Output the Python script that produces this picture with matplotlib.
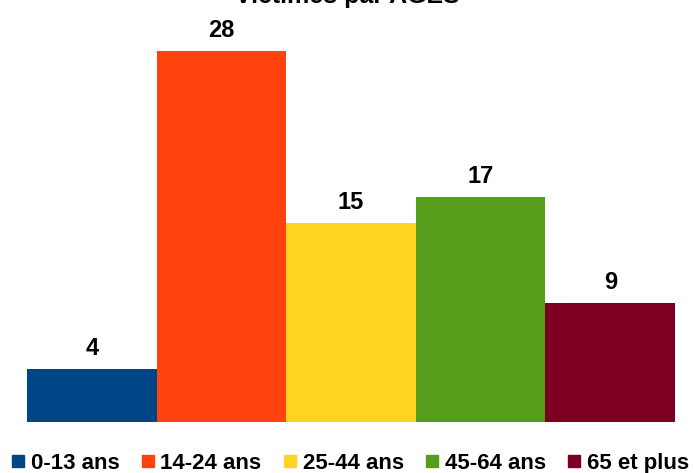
import matplotlib
matplotlib.use("Agg")
import matplotlib.pyplot as plt
from matplotlib.lines import Line2D

categories = ["0-13 ans", "14-24 ans", "25-44 ans", "45-64 ans", "65 et plus"]
values = [4, 28, 15, 17, 9]
colors = ["#004586", "#ff420e", "#ffd320", "#579d1c", "#7e0021"]
title = "Victimes par AGES"

plt.rcParams['font.family'] = ['Liberation Sans', 'DejaVu Sans']

W, H = 694, 473
fig = plt.figure(figsize=(W/100, H/100), dpi=100)
ymax = 30
scale = (422 - 51) / 28.0
ax = fig.add_axes([27/W, (H-422)/H, 648/W, ymax*scale/H])
x = list(range(len(values)))
ax.bar(x, values, width=1.0, color=colors, edgecolor='none')
ax.set_xlim(-0.5, len(values) - 0.5)
ax.set_ylim(0, ymax)
ax.axis('off')
for xi, v in zip(x, values):
    ax.annotate(str(v), (xi, v), xytext=(0, 6.5), textcoords='offset points',
                ha='center', va='bottom', fontsize=17, fontweight='bold')

fig.text(0.5, 1 - 3/H, title, ha='center', va='baseline', fontsize=18, fontweight='bold')

handles = [Line2D([], [], marker='s', linestyle='none', markersize=8.5, color=c) for c in colors]
fig.legend(handles, categories, loc='lower center', bbox_to_anchor=(0.505, -0.02), ncol=5,
           frameon=False, prop={'weight': 'bold', 'size': 16}, handlelength=0.55,
           handletextpad=0.3, columnspacing=1.0, borderaxespad=0)
fig.savefig("out.png", dpi=100)
